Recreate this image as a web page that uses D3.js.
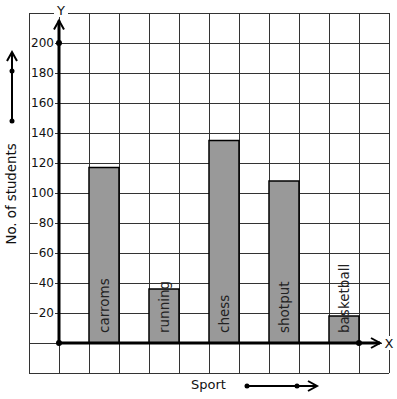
<!DOCTYPE html>
<html>
<head>
<meta charset="utf-8">
<script src="https://cdn.jsdelivr.net/npm/d3@7"></script>
<style>
  html, body { margin: 0; padding: 0; background: #fff; }
  text { font-family: "DejaVu Sans", sans-serif; }
</style>
</head>
<body>
<div id="chart"></div>
<script>
//Data
const sports = ['carroms', 'running', 'chess', 'shotput', 'basketball'];
const students = [117, 36, 135, 108, 18];
const sportSlots = [1, 3, 5, 7, 9];
const yTicks = [20, 40, 60, 80, 100, 120, 140, 160, 180, 200];

const W = 397, H = 399;
const svg = d3.select('#chart').append('svg').attr('width', W).attr('height', H);

// one grid column = 30px, one grid row = 20 students = 30px
const x = d3.scaleLinear().domain([-1, 11]).range([29, 389]);
const y = d3.scaleLinear().domain([-20, 220]).range([373, 13]);

// Grid
const grid = svg.append('g').attr('stroke', '#333').attr('stroke-width', 1).attr('shape-rendering', 'crispEdges');
d3.range(-1, 12).forEach(i => {
  grid.append('line').attr('x1', x(i)).attr('x2', x(i)).attr('y1', y(220)).attr('y2', y(-20));
});
d3.range(-20, 221, 20).forEach(v => {
  grid.append('line').attr('x1', x(-1)).attr('x2', x(11)).attr('y1', y(v)).attr('y2', y(v));
});

// Bars
svg.append('g').selectAll('rect')
  .data(sports)
  .join('rect')
  .attr('x', (d, i) => x(sportSlots[i]))
  .attr('y', (d, i) => y(students[i]))
  .attr('width', x(1) - x(0))
  .attr('height', (d, i) => y(0) - y(students[i]))
  .attr('fill', '#999')
  .attr('stroke', '#000')
  .attr('stroke-width', 1.5);

// Bar labels (rotated, inside bars)
svg.append('g').selectAll('text')
  .data(sports)
  .join('text')
  .attr('transform', (d, i) => `translate(${x(sportSlots[i] + 0.5) + 4.5},${y(0) - 10}) rotate(-90)`)
  .attr('font-size', 13.5)
  .attr('fill', '#222')
  .text(d => d);

// Tick labels with white background
const tickG = svg.append('g');
yTicks.forEach(v => {
  const t = tickG.append('text')
    .attr('x', 54).attr('y', y(v)).attr('dy', '0.36em')
    .attr('text-anchor', 'end').attr('font-size', 12).attr('fill', '#111')
    .text(v);
  const b = t.node().getBBox();
  tickG.insert('rect', 'text')
    .attr('x', b.x - 1).attr('y', b.y).attr('width', b.width + 2).attr('height', b.height)
    .attr('fill', '#fff');
});

// Arrowhead helper (open chevron)
const arrow = (g, tx, ty, dir) => {
  const L = 9, s = 5;
  const pts = dir === 'up'
    ? [[tx - s, ty + L], [tx, ty], [tx + s, ty + L]]
    : [[tx - L, ty - s], [tx, ty], [tx - L, ty + s]];
  g.append('path').attr('d', d3.line()(pts)).attr('fill', 'none')
    .attr('stroke', '#000').attr('stroke-width', 2);
};

// Axes
const axes = svg.append('g');
axes.append('line').attr('x1', x(0)).attr('x2', x(0)).attr('y1', y(0)).attr('y2', y(215))
  .attr('stroke', '#000').attr('stroke-width', 3);
axes.append('line').attr('x1', x(0)).attr('x2', x(10.7)).attr('y1', y(0)).attr('y2', y(0))
  .attr('stroke', '#000').attr('stroke-width', 3);
arrow(axes, x(0), y(215), 'up');
arrow(axes, x(10.7), y(0), 'right');
[[x(0), y(0)], [x(0), y(200)], [x(10), y(0)]].forEach(p => {
  axes.append('circle').attr('cx', p[0]).attr('cy', p[1]).attr('r', 3).attr('fill', '#000');
});

// Axis letters with white background
const letter = (tx, ty, s) => {
  axes.append('rect').attr('x', tx - 7).attr('y', ty - 7).attr('width', 14).attr('height', 14).attr('fill', '#fff');
  axes.append('text').attr('x', tx).attr('y', ty).attr('dy', '0.36em')
    .attr('text-anchor', 'middle').attr('font-size', 13).attr('fill', '#111').text(s);
};
letter(x(0) + 2, 10, 'Y');
letter(x(11), y(0), 'X');

// Axis titles and direction arrows
svg.append('text')
  .attr('transform', 'translate(16,194) rotate(-90)')
  .attr('text-anchor', 'middle').attr('font-size', 13.3).attr('fill', '#111')
  .text('No. of students');
svg.append('text')
  .attr('x', 208.5).attr('y', 389)
  .attr('text-anchor', 'middle').attr('font-size', 13).attr('fill', '#111')
  .text('Sport');

const side = svg.append('g');
side.append('line').attr('x1', 12).attr('x2', 12).attr('y1', 121).attr('y2', 53)
  .attr('stroke', '#000').attr('stroke-width', 2);
arrow(side, 12, 52, 'up');
[71, 121].forEach(cy => side.append('circle').attr('cx', 12).attr('cy', cy).attr('r', 2.5).attr('fill', '#000'));

side.append('line').attr('x1', 247).attr('x2', 316).attr('y1', 386).attr('y2', 386)
  .attr('stroke', '#000').attr('stroke-width', 2);
arrow(side, 317, 386, 'right');
[247, 297].forEach(cx => side.append('circle').attr('cx', cx).attr('cy', 386).attr('r', 2.5).attr('fill', '#000'));
</script>
</body>
</html>
